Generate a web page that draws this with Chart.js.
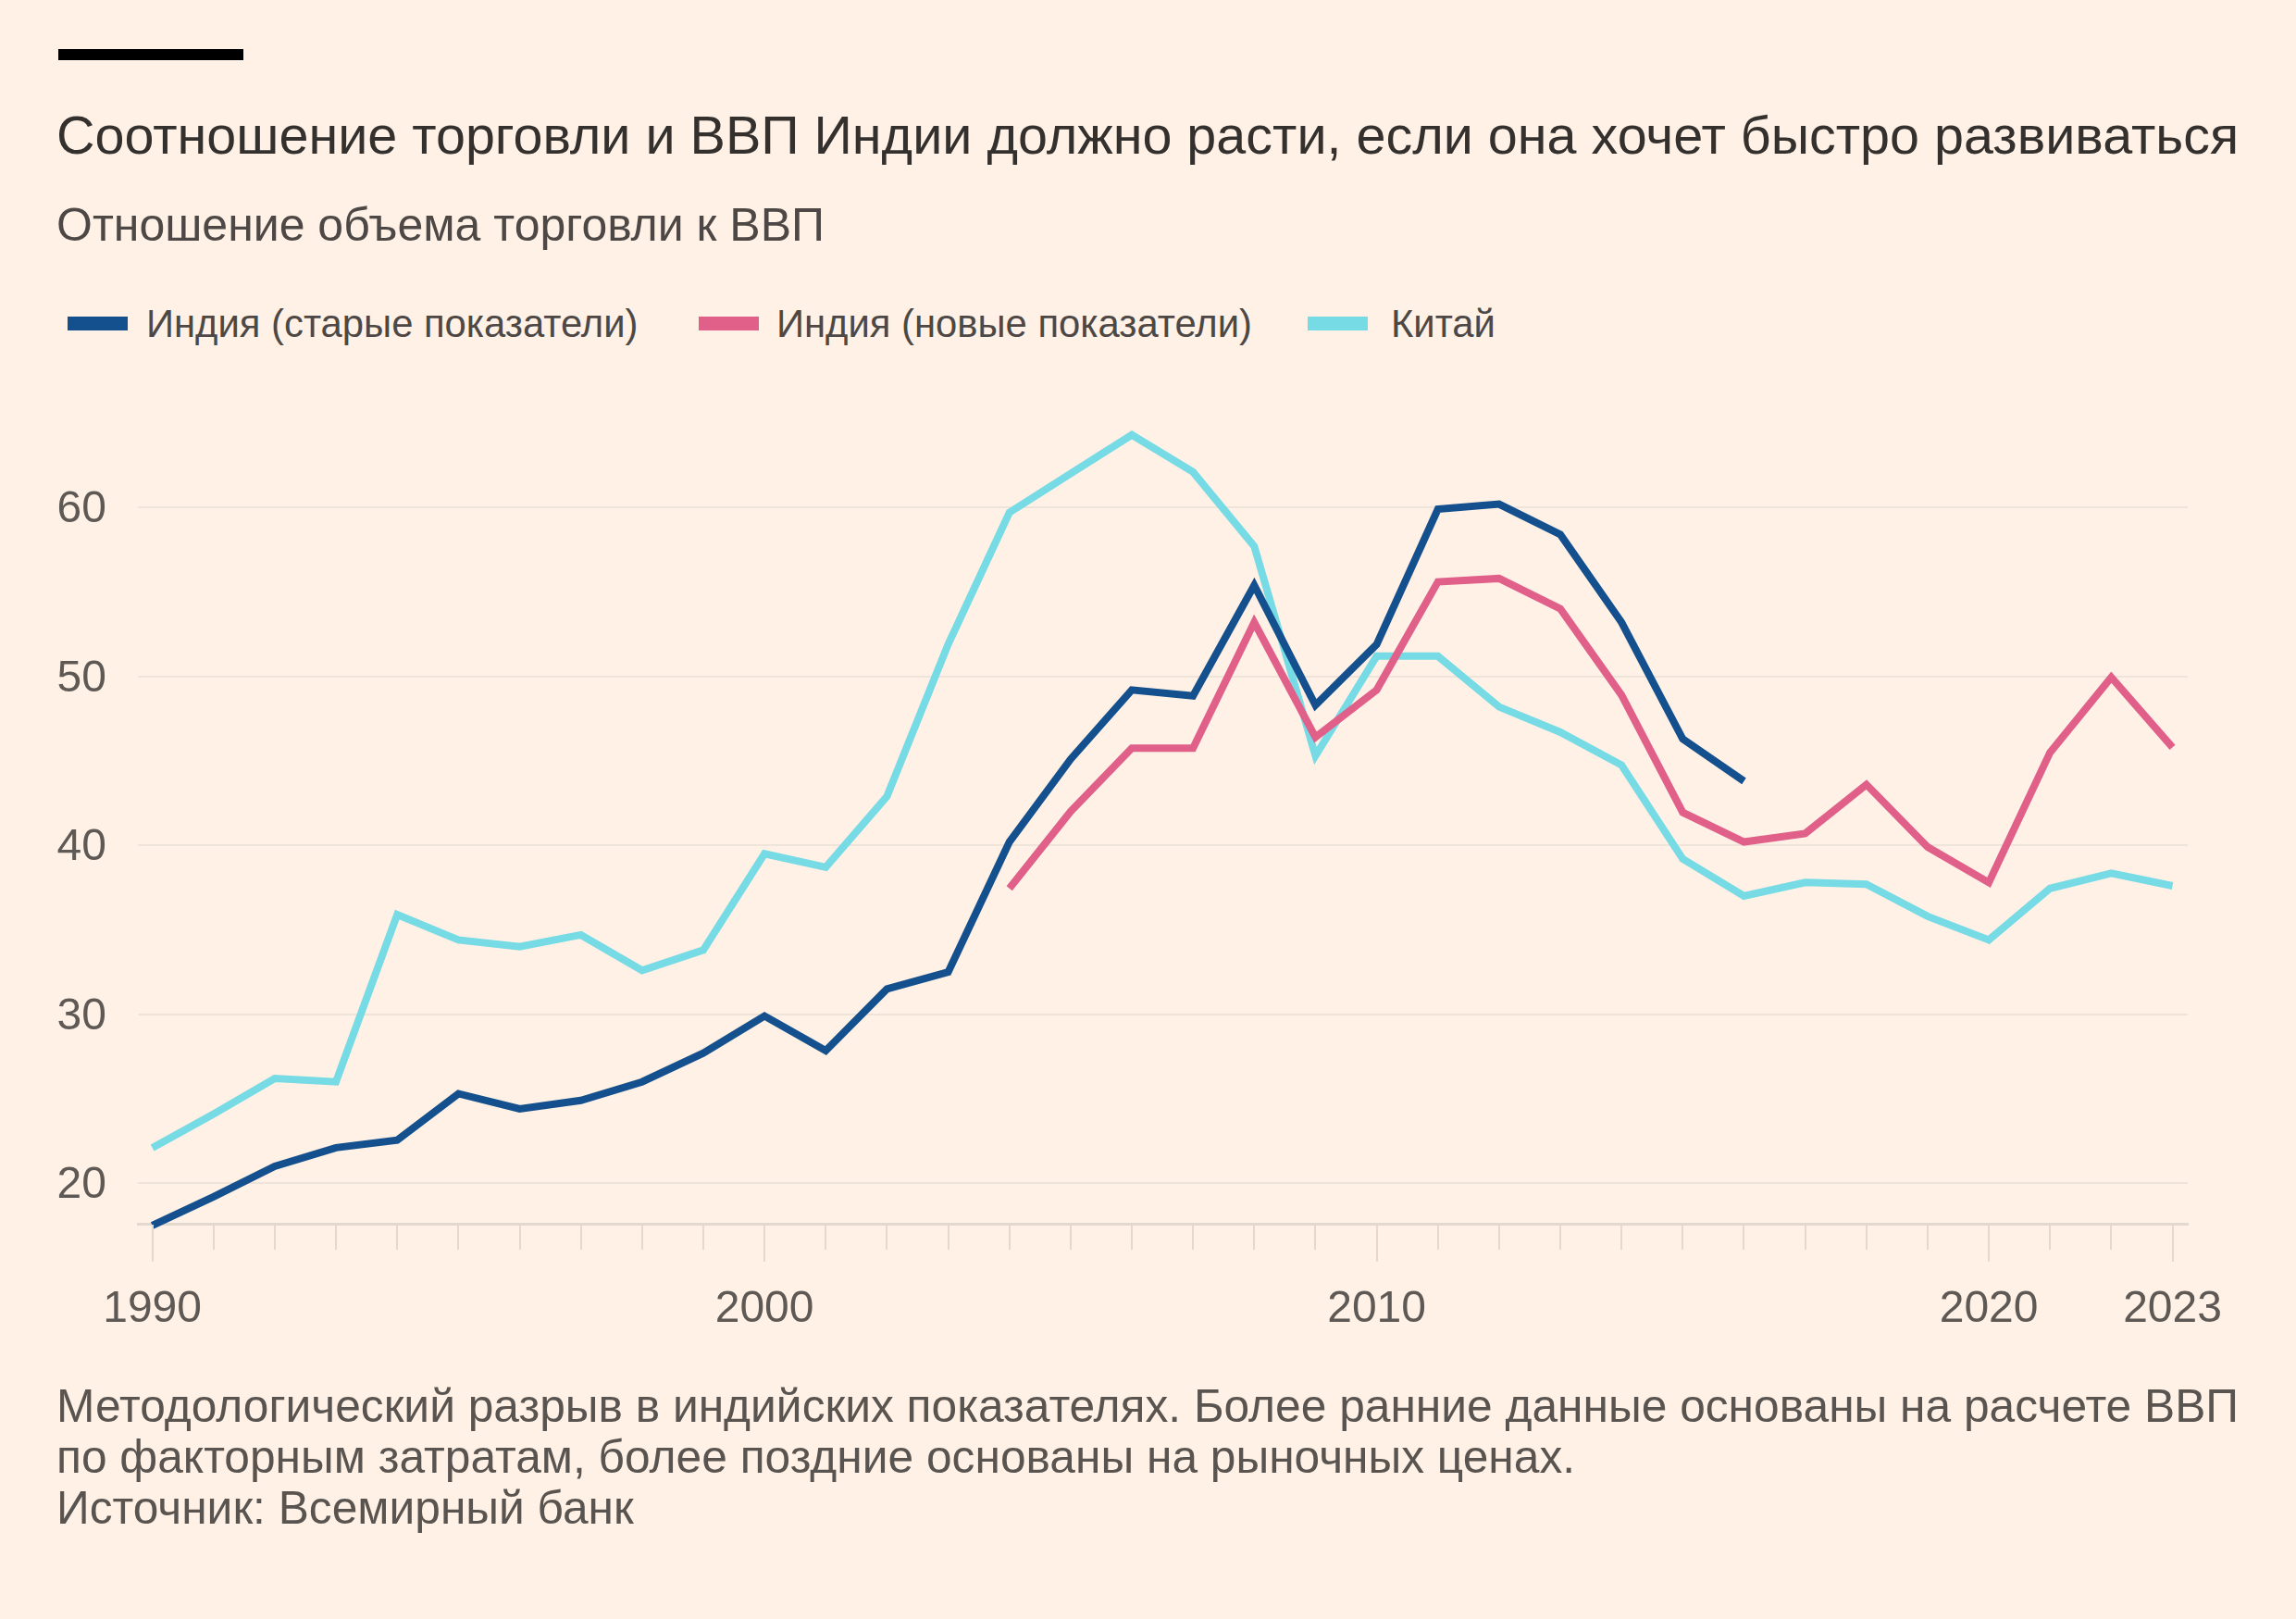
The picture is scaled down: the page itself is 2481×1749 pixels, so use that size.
<!DOCTYPE html>
<html>
<head>
<meta charset="utf-8">
<script src="https://cdn.jsdelivr.net/npm/chart.js@4.4.1/dist/chart.umd.min.js"></script>
<style>
html,body{margin:0;padding:0;background:#fff1e5;}
body{width:2481px;height:1749px;position:relative;overflow:hidden;font-family:"Liberation Sans",Arial,sans-serif;}
.abs{position:absolute;white-space:nowrap;line-height:1;}
#bar{position:absolute;left:63px;top:53px;width:200px;height:12px;background:#000;}
#title{left:61px;top:118px;font-size:57.5px;color:#33302e;}
#subtitle{left:61px;top:218px;font-size:50px;color:#4d4845;}
.leg{position:absolute;top:329px;font-size:41.8px;color:#4d4845;line-height:1;white-space:nowrap;}
.sw{position:absolute;top:342px;width:65px;height:15px;}
#foot{position:absolute;left:61px;top:1492px;font-size:49.7px;color:#5a5450;line-height:55px;white-space:nowrap;}
#wrap{position:absolute;left:0;top:400px;width:2481px;height:1100px;}
</style>
</head>
<body>
<div id="bar"></div>
<div id="title" class="abs">Соотношение торговли и ВВП Индии должно расти, если она хочет быстро развиваться</div>
<div id="subtitle" class="abs">Отношение объема торговли к ВВП</div>
<div id="legend"></div>
<div id="wrap"><canvas id="c"></canvas></div>
<div id="foot">Методологический разрыв в индийских показателях. Более ранние данные основаны на расчете ВВП<br>по факторным затратам, более поздние основаны на рыночных ценах.<br>Источник: Всемирный банк</div>
<script>
// ---- data ----
const years = [1990,1991,1992,1993,1994,1995,1996,1997,1998,1999,2000,2001,2002,2003,2004,2005,2006,2007,2008,2009,2010,2011,2012,2013,2014,2015,2016,2017,2018,2019,2020,2021,2022,2023];
const indiaOld = [17.5,19.2,21.0,22.1,22.55,25.3,24.4,24.9,26.0,27.7,29.9,27.85,31.5,32.5,40.2,45.1,49.2,48.85,55.4,48.3,51.9,59.9,60.2,58.4,53.2,46.3,43.8,null,null,null,null,null,null,null];
const indiaNew = [null,null,null,null,null,null,null,null,null,null,null,null,null,null,37.45,42.0,45.75,45.75,53.2,46.4,49.2,55.6,55.8,54.0,48.9,41.95,40.2,40.7,43.6,39.9,37.8,45.5,49.95,45.8];
const china = [22.1,24.1,26.2,26.0,35.9,34.4,34.0,34.7,32.6,33.8,39.5,38.7,42.9,51.9,59.7,62.0,64.3,62.1,57.7,45.3,51.2,51.2,48.2,46.7,44.75,39.2,37.0,37.8,37.7,35.8,34.4,37.45,38.35,37.6];
const seriesNames = ["Индия (старые показатели)","Индия (новые показатели)","Китай"];
const yTickValues = [20,30,40,50,60];
const xLabelYears = [1990,2000,2010,2020,2023];

// ---- styles ----
const colors = ["#14508d","#e0608a","#76dbe4"];
const legendPos = [{sw:73,tx:158},{sw:755,tx:839},{sw:1413,tx:1503}];
const legend = document.getElementById('legend');
seriesNames.forEach((n,i)=>{
  const s=document.createElement('div');s.className='sw';s.style.left=legendPos[i].sw+'px';s.style.background=colors[i];legend.appendChild(s);
  const t=document.createElement('div');t.className='leg';t.style.left=legendPos[i].tx+'px';t.textContent=n;legend.appendChild(t);
});

const toPts = arr => years.map((y,i)=>({x:y,y:arr[i]})).filter(p=>p.y!==null);

const tickMarks = {
  id:'tickMarks',
  afterDraw(chart){
    const xs=chart.scales.x, ctx=chart.ctx, b=chart.chartArea.bottom;
    ctx.save();
    ctx.strokeStyle='#e3d9cf';ctx.lineWidth=2;
    years.forEach(y=>{
      const px=Math.round(xs.getPixelForValue(y));
      const len = xLabelYears.includes(y)?41:28;
      ctx.beginPath();ctx.moveTo(px,b+1);ctx.lineTo(px,b+len);ctx.stroke();
    });
    ctx.restore();
  }
};

const font = {family:'"Liberation Sans", Arial, sans-serif', size:48};
new Chart(document.getElementById('c'),{
  type:'line',
  data:{datasets:[
    {label:seriesNames[0],data:toPts(indiaOld),borderColor:colors[0],borderWidth:8,pointRadius:0,clip:false,tension:0},
    {label:seriesNames[1],data:toPts(indiaNew),borderColor:colors[1],borderWidth:8,pointRadius:0,clip:false,tension:0},
    {label:seriesNames[2],data:toPts(china),borderColor:colors[2],borderWidth:8,pointRadius:0,clip:false,tension:0}
  ]},
  options:{
    responsive:true,maintainAspectRatio:false,animation:false,devicePixelRatio:1,
    layout:{padding:{top:57,right:117,bottom:0,left:0}},
    plugins:{legend:{display:false},tooltip:{enabled:false},title:{display:false}},
    scales:{
      x:{type:'linear',min:1989.764,max:2023.249,
        afterFit(s){s.height=178;s.paddingLeft=0;s.paddingRight=0;},
        afterBuildTicks(s){s.ticks=xLabelYears.map(v=>({value:v}));},
        grid:{display:true,drawOnChartArea:false,drawTicks:false},
        border:{display:true,color:'#e3d9cf',width:3},
        ticks:{autoSkip:false,maxRotation:0,padding:64,color:'#5f5955',font,callback:v=>String(v)}
      },
      y:{type:'linear',min:17.6,max:65,
        afterFit(s){s.width=149;s.paddingTop=0;s.paddingBottom=0;},
        afterBuildTicks(s){s.ticks=yTickValues.map(v=>({value:v}));},
        grid:{color:'#efe4da',lineWidth:2,drawTicks:false},
        border:{display:false},
        ticks:{padding:34,labelOffset:3,color:'#5f5955',font,callback:v=>String(v)}
      }
    }
  },
  plugins:[tickMarks]
});
</script>
</body>
</html>
